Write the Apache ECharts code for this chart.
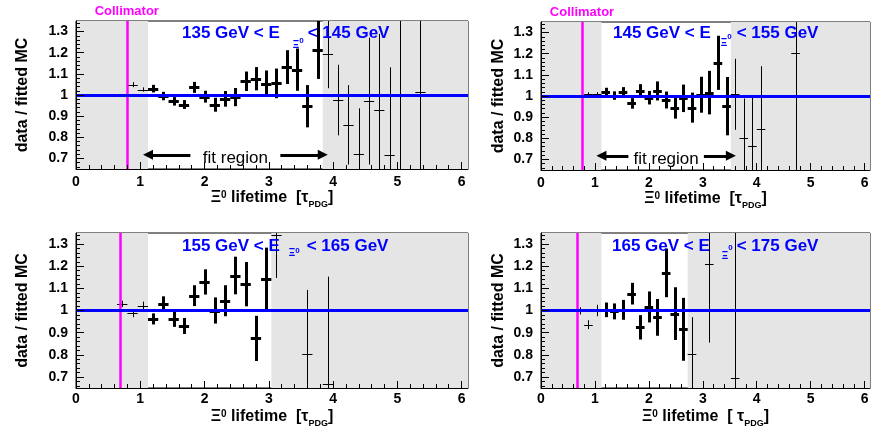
<!DOCTYPE html>
<html>
<head>
<meta charset="utf-8">
<script src="https://cdn.jsdelivr.net/npm/echarts@6/dist/echarts.min.js"></script>
<style>
html, body { margin: 0; padding: 0; background: #fff; }
#chart { width: 876px; height: 433px; }
</style>
</head>
<body>
<div id="chart"></div>
<script>
// Ratio data / fitted MC versus Xi0 proper lifetime, in four energy bins.
const binWidth = 0.16;

const tau135 = [0.88, 1.04, 1.20, 1.36, 1.52, 1.68, 1.84, 2.00, 2.16, 2.32, 2.48, 2.64, 2.80, 2.96, 3.12, 3.28, 3.44, 3.60, 3.76, 3.92, 4.08, 4.24, 4.40, 4.56, 4.72, 4.88, 5.04, 5.36];
const ratio135 = [1.049, 1.026, 1.030, 0.995, 0.970, 0.955, 1.036, 0.992, 0.954, 0.982, 0.990, 1.065, 1.077, 1.054, 1.055, 1.132, 1.120, 0.947, 1.214, 1.192, 0.976, 0.859, 0.719, 0.971, 0.929, 0.717, 1.000, 1.013];
const err135 = [0.012, 0.010, 0.018, 0.020, 0.020, 0.021, 0.026, 0.028, 0.033, 0.037, 0.043, 0.046, 0.055, 0.062, 0.070, 0.080, 0.100, 0.100, 0.138, 0.160, 0.167, 0.188, 0.218, 0.300, 0.360, 0.414, 0.600, 0.600];

const tau145 = [0.88, 1.04, 1.20, 1.36, 1.52, 1.68, 1.84, 2.00, 2.16, 2.32, 2.48, 2.64, 2.80, 2.96, 3.12, 3.28, 3.44, 3.60, 3.76, 3.92, 4.08, 4.72];
const ratio145 = [1.008, 1.008, 1.017, 1.002, 1.017, 0.965, 1.024, 0.992, 1.024, 0.981, 0.944, 0.989, 0.945, 1.006, 1.016, 1.157, 0.952, 1.008, 0.803, 0.764, 0.843, 1.205];
const err145 = [0.010, 0.010, 0.022, 0.020, 0.025, 0.025, 0.032, 0.032, 0.045, 0.040, 0.051, 0.065, 0.071, 0.085, 0.103, 0.128, 0.138, 0.168, 0.185, 0.232, 0.298, 0.600];

const tau155 = [0.72, 0.88, 1.04, 1.20, 1.36, 1.52, 1.68, 1.84, 2.00, 2.16, 2.32, 2.48, 2.64, 2.80, 2.96, 3.12, 3.60, 3.92];
const ratio155 = [1.030, 0.988, 1.021, 0.962, 1.030, 0.962, 0.930, 1.067, 1.129, 1.000, 1.044, 1.158, 1.119, 0.874, 1.142, 1.341, 0.803, 0.670];
const err155 = [0.014, 0.018, 0.019, 0.025, 0.034, 0.036, 0.036, 0.047, 0.057, 0.059, 0.070, 0.085, 0.100, 0.102, 0.142, 0.194, 0.290, 0.483];

const tau165 = [0.72, 0.88, 1.04, 1.20, 1.36, 1.52, 1.68, 1.84, 2.00, 2.16, 2.32, 2.48, 2.64, 2.80, 3.12, 3.60];
const ratio165 = [0.998, 0.936, 1.000, 1.003, 0.996, 1.003, 1.076, 0.924, 1.016, 0.969, 1.170, 0.986, 0.915, 0.803, 1.210, 0.694];
const err165 = [0.016, 0.020, 0.026, 0.033, 0.036, 0.045, 0.049, 0.055, 0.070, 0.083, 0.110, 0.119, 0.142, 0.167, 0.355, 0.700];

const energyLow = [135, 145, 155, 165];
const energyHigh = [145, 155, 165, 175];
const fitStart = [1.12, 1.12, 1.12, 1.12];
const fitEnd = [3.84, 3.52, 3.04, 2.72];
const collimatorPos = [0.79, 0.755, 0.685, 0.665];
const fitLevel = 1.0;

const xTickLabels = ['0', '1', '2', '3', '4', '5', '6'];
const yTickLabels = ['0.7', '0.8', '0.9', '1', '1.1', '1.2', '1.3'];

const xRange = [0, 6.1];
const yRange = [0.65, 1.35];

const font = "'Liberation Sans', Arial, Helvetica, sans-serif";
const BLUE = '#0000ff';
const MAGENTA = '#ff00ff';
const SHADE = '#e5e5e5';

const xMajor = xTickLabels.map(Number);
const yMajor = yTickLabels.map(Number);
const xMinor = [];
for (let k = 1; k < 30; k++) if (k % 5) xMinor.push(+(k * 0.2).toFixed(2));
const yMinor = [];
for (let k = 33; k <= 67; k++) if (k % 5) yMinor.push(+(k * 0.02).toFixed(2));

const panels = [
  { tau: tau135, ratio: ratio135, err: err135 },
  { tau: tau145, ratio: ratio145, err: err145 },
  { tau: tau155, ratio: ratio155, err: err155 },
  { tau: tau165, ratio: ratio165, err: err165 }
];

const layout = [
  { grid: { left: 76, top: 21, width: 392, height: 148 }, yNameGap: 45, xLabelMargin: 6, xNameGap: 21, title: { left: 182, top: 24.5 }, gapL: 13, gapR: 4, subDrop: 12, supDrop: 8, bracket: '[' },
  { grid: { left: 541, top: 22, width: 329, height: 148 }, yNameGap: 34, xLabelMargin: 6, xNameGap: 21, title: { left: 613, top: 24.5 }, gapL: 10, gapR: 5, subDrop: 10.5, supDrop: 4, bracket: '[' },
  { grid: { left: 76, top: 233, width: 392, height: 155 }, yNameGap: 45, xLabelMargin: 4, xNameGap: 21, title: { left: 182, top: 238 }, gapL: 9, gapR: 7, subDrop: 7, supDrop: 4, bracket: '[' },
  { grid: { left: 541, top: 233, width: 329, height: 155 }, yNameGap: 34, xLabelMargin: 4, xNameGap: 21, title: { left: 612, top: 238 }, gapL: 12, gapR: 4, subDrop: 10, supDrop: 1, bracket: '[ ' }
];

function labelFor(list, values) {
  return function (v) {
    let best = 0;
    for (let i = 1; i < values.length; i++) {
      if (Math.abs(values[i] - v) < Math.abs(values[best] - v)) best = i;
    }
    return list[best];
  };
}

// One error cross per bin: thick inside the fit range, thin outside.
function errorCross(params, api) {
  const x = api.value(0), y = api.value(1), e = api.value(2);
  const thick = api.value(3) > 0;
  const lw = thick ? 3 : 1;
  const c = api.coord([x, y]);
  const l = api.coord([x - binWidth / 2, y]);
  const r = api.coord([x + binWidth / 2, y]);
  const top = api.coord([x, y + e]);
  const bot = api.coord([x, y - e]);
  const cx = Math.round(c[0]) + 0.5;
  const cy = Math.round(c[1]) + 0.5;
  return {
    type: 'group',
    children: [
      { type: 'line', shape: { x1: cx, y1: top[1], x2: cx, y2: bot[1] }, style: { stroke: '#000', lineWidth: lw } },
      { type: 'line', shape: { x1: l[0], y1: cy, x2: r[0], y2: cy }, style: { stroke: '#000', lineWidth: lw } }
    ]
  };
}

const grid = [], xAxis = [], yAxis = [], series = [], title = [];

panels.forEach(function (p, i) {
  const L = layout[i];
  grid.push(Object.assign({ show: true, borderColor: '#000', borderWidth: 1, backgroundColor: 'transparent' }, L.grid));

  // major x ticks, labels and title
  xAxis.push({
    type: 'value', gridIndex: i, min: xRange[0], max: xRange[1], position: 'bottom', z: 10,
    axisLine: { show: true, onZero: false, lineStyle: { color: '#000', width: 1 } },
    axisTick: { show: true, inside: true, length: 7, customValues: xMajor, lineStyle: { color: '#000' } },
    axisLabel: { show: true, customValues: xMajor, formatter: labelFor(xTickLabels, xMajor), margin: L.xLabelMargin,
      color: '#000', fontSize: 14, fontWeight: 'bold', fontFamily: font },
    splitLine: { show: false },
    name: '{a|Ξ}{p|0}{a| lifetime  ' + L.bracket + 'τ}{q|PDG}{a|]}',
    nameLocation: 'middle', nameGap: L.xNameGap,
    nameTextStyle: {
      color: '#000',
      rich: {
        a: { fontSize: 16, fontWeight: 'bold', fontFamily: font, color: '#000', verticalAlign: 'top' },
        p: { fontSize: 10, fontWeight: 'bold', fontFamily: font, color: '#000', verticalAlign: 'top', padding: [0, 0, 0, 0] },
        q: { fontSize: 9, fontWeight: 'bold', fontFamily: font, color: '#000', verticalAlign: 'top', padding: [10, 0, 0, 0] }
      }
    }
  });
  // minor x ticks
  xAxis.push({
    type: 'value', gridIndex: i, min: xRange[0], max: xRange[1], position: 'bottom', z: 10,
    axisLine: { show: false },
    axisTick: { show: true, inside: true, length: 4, customValues: xMinor, lineStyle: { color: '#000' } },
    axisLabel: { show: false },
    splitLine: { show: false }
  });

  // major y ticks, labels and title
  yAxis.push({
    type: 'value', gridIndex: i, min: yRange[0], max: yRange[1], position: 'left', z: 10,
    axisLine: { show: true, onZero: false, lineStyle: { color: '#000', width: 1 } },
    axisTick: { show: true, inside: true, length: 8, customValues: yMajor, lineStyle: { color: '#000' } },
    axisLabel: { show: true, customValues: yMajor, formatter: labelFor(yTickLabels, yMajor), margin: 8,
      color: '#000', fontSize: 14, fontWeight: 'bold', fontFamily: font },
    splitLine: { show: false },
    name: 'data / fitted MC', nameLocation: 'middle', nameGap: L.yNameGap,
    nameTextStyle: { color: '#000', fontSize: 16, fontWeight: 'bold', fontFamily: font }
  });
  // minor y ticks
  yAxis.push({
    type: 'value', gridIndex: i, min: yRange[0], max: yRange[1], position: 'left', z: 10,
    axisLine: { show: false },
    axisTick: { show: true, inside: true, length: 4, customValues: yMinor, lineStyle: { color: '#000' } },
    axisLabel: { show: false },
    splitLine: { show: false }
  });

  const xi = 2 * i, yi = 2 * i;

  // shaded region outside the fit range, and the collimator position
  series.push({
    type: 'line', xAxisIndex: xi, yAxisIndex: yi, data: [], z: 1, silent: true,
    markArea: {
      silent: true,
      itemStyle: { color: SHADE },
      data: [
        [{ xAxis: xRange[0] }, { xAxis: fitStart[i] }],
        [{ xAxis: fitEnd[i] }, { xAxis: xRange[1] }]
      ]
    },
    markLine: {
      silent: true, symbol: ['none', 'none'], animation: false,
      lineStyle: { color: MAGENTA, width: 2.5, type: 'solid' },
      label: { show: i < 2, position: 'end', formatter: 'Collimator', distance: 3,
        color: MAGENTA, fontSize: 13, fontWeight: 'bold', fontFamily: font },
      data: [{ xAxis: collimatorPos[i] }]
    }
  });

  // data points with error bars
  const rows = p.tau.map(function (t, k) {
    const inFit = t > fitStart[i] && t < fitEnd[i] ? 1 : 0;
    return [t, p.ratio[k], p.err[k], inFit];
  });
  series.push({
    type: 'custom', xAxisIndex: xi, yAxisIndex: yi, z: 2, clip: true, silent: true,
    renderItem: errorCross,
    encode: { x: 0, y: 1 },
    data: rows
  });

  // fitted constant
  series.push({
    type: 'line', xAxisIndex: xi, yAxisIndex: yi, data: [], z: 3, silent: true,
    markLine: {
      silent: true, symbol: ['none', 'none'], animation: false,
      lineStyle: { color: BLUE, width: 3, type: 'solid' },
      label: { show: false },
      data: [{ yAxis: fitLevel }]
    }
  });

  // fit range arrows (top row)
  if (i < 2) {
    const mid = (fitStart[i] + fitEnd[i]) / 2;
    const yArrow = 0.717;
    series.push({
      type: 'line', xAxisIndex: xi, yAxisIndex: yi, data: [], z: 3, silent: true,
      markLine: {
        silent: true, animation: false,
        symbol: ['none', 'triangle'], symbolSize: 10,
        lineStyle: { color: '#000', width: 3, type: 'solid' },
        itemStyle: { color: '#000' },
        label: { show: false },
        data: [
          [{ coord: [mid - 0.70, yArrow] }, { coord: [fitStart[i], yArrow] }],
          [{ coord: [mid + 0.70, yArrow] }, { coord: [fitEnd[i], yArrow] }]
        ]
      },
      markPoint: {
        silent: true, animation: false,
        symbol: 'circle', symbolSize: 1, itemStyle: { color: 'rgba(0,0,0,0)' },
        label: { show: true, position: 'inside', formatter: 'fit region', color: '#000',
          fontSize: 17, fontFamily: font },
        data: [{ coord: [mid, 0.70] }]
      }
    });
  }

  // energy bin label
  title.push({
    left: L.title.left, top: L.title.top, padding: 0,
    text: '{a|' + energyLow[i] + ' GeV < E}{s|Ξ}{t|0}{b|< ' + energyHigh[i] + ' GeV}',
    textStyle: {
      rich: {
        a: { fontSize: 17, fontWeight: 'bold', fontFamily: font, color: BLUE, verticalAlign: 'top' },
        s: { fontSize: 10, fontWeight: 'bold', fontFamily: font, color: BLUE, verticalAlign: 'top', padding: [3.5 + L.subDrop, 0, 0, L.gapL] },
        t: { fontSize: 8, fontWeight: 'bold', fontFamily: font, color: BLUE, verticalAlign: 'top', padding: [4.5 + L.supDrop, 0, 0, 0] },
        b: { fontSize: 17, fontWeight: 'bold', fontFamily: font, color: BLUE, verticalAlign: 'top', padding: [0, 0, 0, L.gapR] }
      }
    }
  });
});

const chart = echarts.init(document.getElementById('chart'), null, { renderer: 'canvas' });
chart.setOption({
  animation: false,
  backgroundColor: '#fff',
  title: title,
  grid: grid,
  xAxis: xAxis,
  yAxis: yAxis,
  series: series
});
</script>
</body>
</html>
